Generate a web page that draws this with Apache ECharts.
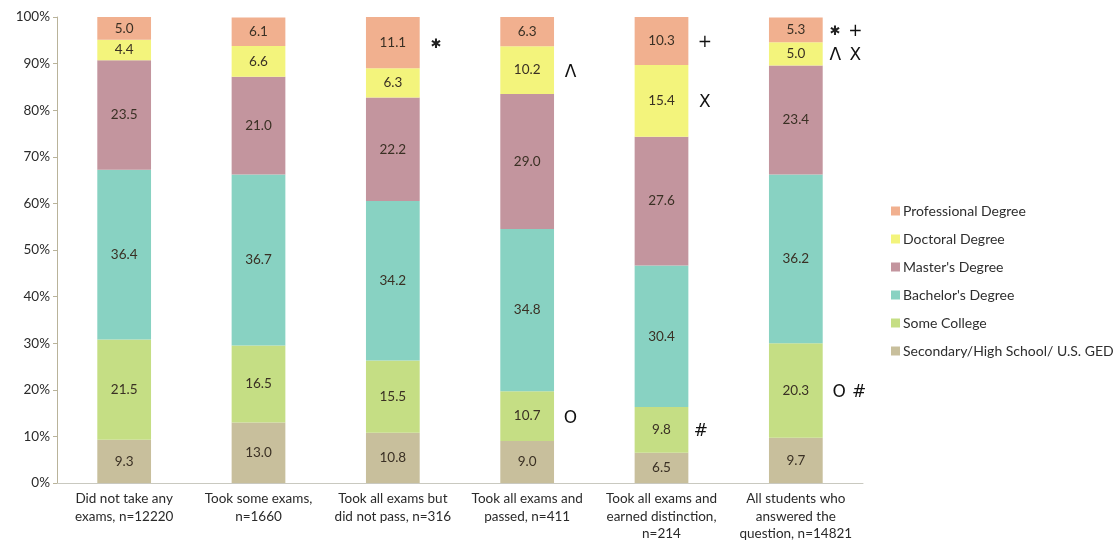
<!DOCTYPE html>
<html>
<head>
<meta charset="utf-8">
<script src="https://cdn.jsdelivr.net/npm/echarts@6/dist/echarts.min.js"></script>
<style>
  html, body { margin: 0; padding: 0; background: #fff; }
  #chart { width: 1120px; height: 552px; }
</style>
</head>
<body>
<div id="chart"></div>
<script>
// Education level of respondents, grouped by exam outcome (percent of each group)
const categories = [
  'Did not take any\nexams, n=12220',
  'Took some exams,\nn=1660',
  'Took all exams but\ndid not pass, n=316',
  'Took all exams and\npassed, n=411',
  'Took all exams and\nearned distinction,\nn=214',
  'All students who\nanswered the\nquestion, n=14821'
];
const yTicks = [0, 10, 20, 30, 40, 50, 60, 70, 80, 90, 100];

const secondary    = [9.3, 13.0, 10.8, 9.0, 6.5, 9.7];
const someCollege  = [21.5, 16.5, 15.5, 10.7, 9.8, 20.3];
const bachelors    = [36.4, 36.7, 34.2, 34.8, 30.4, 36.2];
const masters      = [23.5, 21.0, 22.2, 29.0, 27.6, 23.4];
const doctoral     = [4.4, 6.6, 6.3, 10.2, 15.4, 5.0];
const professional = [5.0, 6.1, 11.1, 6.3, 10.3, 5.3];

// significance markers shown beside segments (up to two per segment)
const secondaryNotes    = [[], [], [], [], [], []];
const someCollegeNotes  = [[], [], [], ['O'], ['#'], ['O', '#']];
const bachelorsNotes    = [[], [], [], [], [], []];
const mastersNotes      = [[], [], [], [], [], []];
const doctoralNotes     = [[], [], [], ['\u039B'], ['X'], ['\u039B', 'X']];
const professionalNotes = [[], [], ['\u2731'], [], ['+'], ['\u2731', '+']];

const seriesDefs = [
  { name: 'Secondary/High School/ U.S. GED', data: secondary, notes: secondaryNotes, color: '#c8bf9c' },
  { name: 'Some College', data: someCollege, notes: someCollegeNotes, color: '#c5de84' },
  { name: "Bachelor's Degree", data: bachelors, notes: bachelorsNotes, color: '#88d2c2' },
  { name: "Master's Degree", data: masters, notes: mastersNotes, color: '#c3959e' },
  { name: 'Doctoral Degree', data: doctoral, notes: doctoralNotes, color: '#f3f47c' },
  { name: 'Professional Degree', data: professional, notes: professionalNotes, color: '#f1b08f' }
];

const FONT = 'Lato, "Open Sans", sans-serif';
const NOTE_FONT = '"DejaVu Sans", sans-serif';

// value centred in the segment; markers sit in fixed slots to its right,
// balanced by an equal empty slot on the left so the value stays centred
function segmentLabel(value, marks) {
  const a = marks[0] || '';
  const b = marks[1] || '';
  const style = m => (m === '\u2731' ? 'star' : 'm');
  return '{pad|}{v|' + value.toFixed(1) + '}{gap|}' +
    '{' + style(a) + '|' + a + '}{' + style(b) + '|' + b + '}';
}

const noteStyle = {
  width: 20, height: 20, lineHeight: 20, align: 'center', verticalAlign: 'middle',
  padding: [4, 0, 0, 0], fontFamily: NOTE_FONT, fontSize: 17, color: '#111'
};

const chart = echarts.init(document.getElementById('chart'), null, { renderer: 'canvas' });

chart.setOption({
  animation: false,
  backgroundColor: '#ffffff',
  textStyle: { fontFamily: FONT },
  grid: { left: 57, right: 257, top: 17, bottom: 69, containLabel: false },
  legend: {
    orient: 'vertical',
    left: 886,
    top: 199,
    itemWidth: 9,
    itemHeight: 9,
    itemGap: 14,
    icon: 'rect',
    data: seriesDefs.map(s => s.name).reverse(),
    textStyle: { fontFamily: FONT, fontSize: 14, color: '#2e2e2e', padding: [0, 0, 0, -2] }
  },
  xAxis: {
    type: 'category',
    data: categories,
    axisLine: { show: true, lineStyle: { color: '#c9c9c0', width: 1 } },
    axisTick: { show: false },
    axisLabel: {
      interval: 0,
      margin: 7,
      fontFamily: FONT,
      fontSize: 13.5,
      lineHeight: 17.5,
      color: '#2a2a2a'
    }
  },
  yAxis: {
    type: 'value',
    min: 0,
    max: 100,
    interval: 10,
    splitLine: { show: false },
    axisLine: { show: true, lineStyle: { color: '#b9b39a', width: 1 } },
    axisTick: { show: true, inside: false, length: 4, lineStyle: { color: '#b9b39a' } },
    axisLabel: {
      margin: 7,
      fontFamily: FONT,
      fontSize: 13.5,
      color: '#2a2a2a',
      formatter: v => (yTicks.includes(v) ? v + '%' : '')
    }
  },
  series: seriesDefs.map(s => ({
    name: s.name,
    type: 'bar',
    stack: 'total',
    barWidth: '40%',
    itemStyle: { color: s.color },
    data: s.data,
    label: {
      show: true,
      position: 'inside',
      formatter: p => segmentLabel(p.value, s.notes[p.dataIndex] || []),
      rich: {
        pad: { width: 60 },
        v: { fontFamily: FONT, fontSize: 13.5, color: '#3a3024' },
        gap: { width: 20 },
        m: noteStyle,
        star: Object.assign({}, noteStyle, { fontSize: 13, color: '#222' })
      }
    }
  }))
});
</script>
</body>
</html>
